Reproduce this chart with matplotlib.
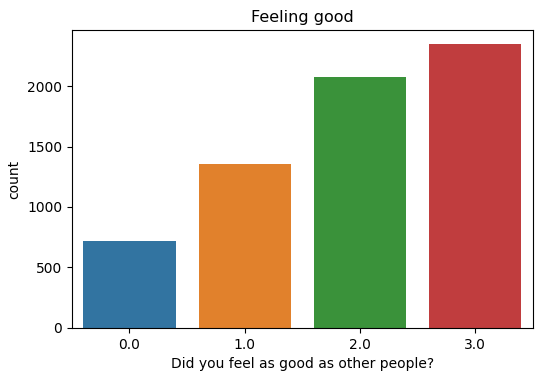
import matplotlib
matplotlib.use("Agg")
import matplotlib.pyplot as plt
import seaborn as sns

categories = ["0.0", "1.0", "2.0", "3.0"]
counts = [716, 1358, 2074, 2346]

plt.rcParams["font.size"] = 10
fig = plt.figure(figsize=(5.4, 3.76), dpi=100)
ax = fig.add_axes([0.133, 0.128, 0.854, 0.792])
sns.barplot(x=categories, y=counts, hue=categories, palette="tab10",
            saturation=0.75, legend=False, ax=ax)
ax.set_title("Feeling good", fontsize=11.5)
ax.set_xlabel("Did you feel as good as other people?")
ax.set_ylabel("count")
ax.set_yticks([0, 500, 1000, 1500, 2000])
ax.set_ylim(0, max(counts) * 1.05)
fig.savefig("out.png", dpi=100)
